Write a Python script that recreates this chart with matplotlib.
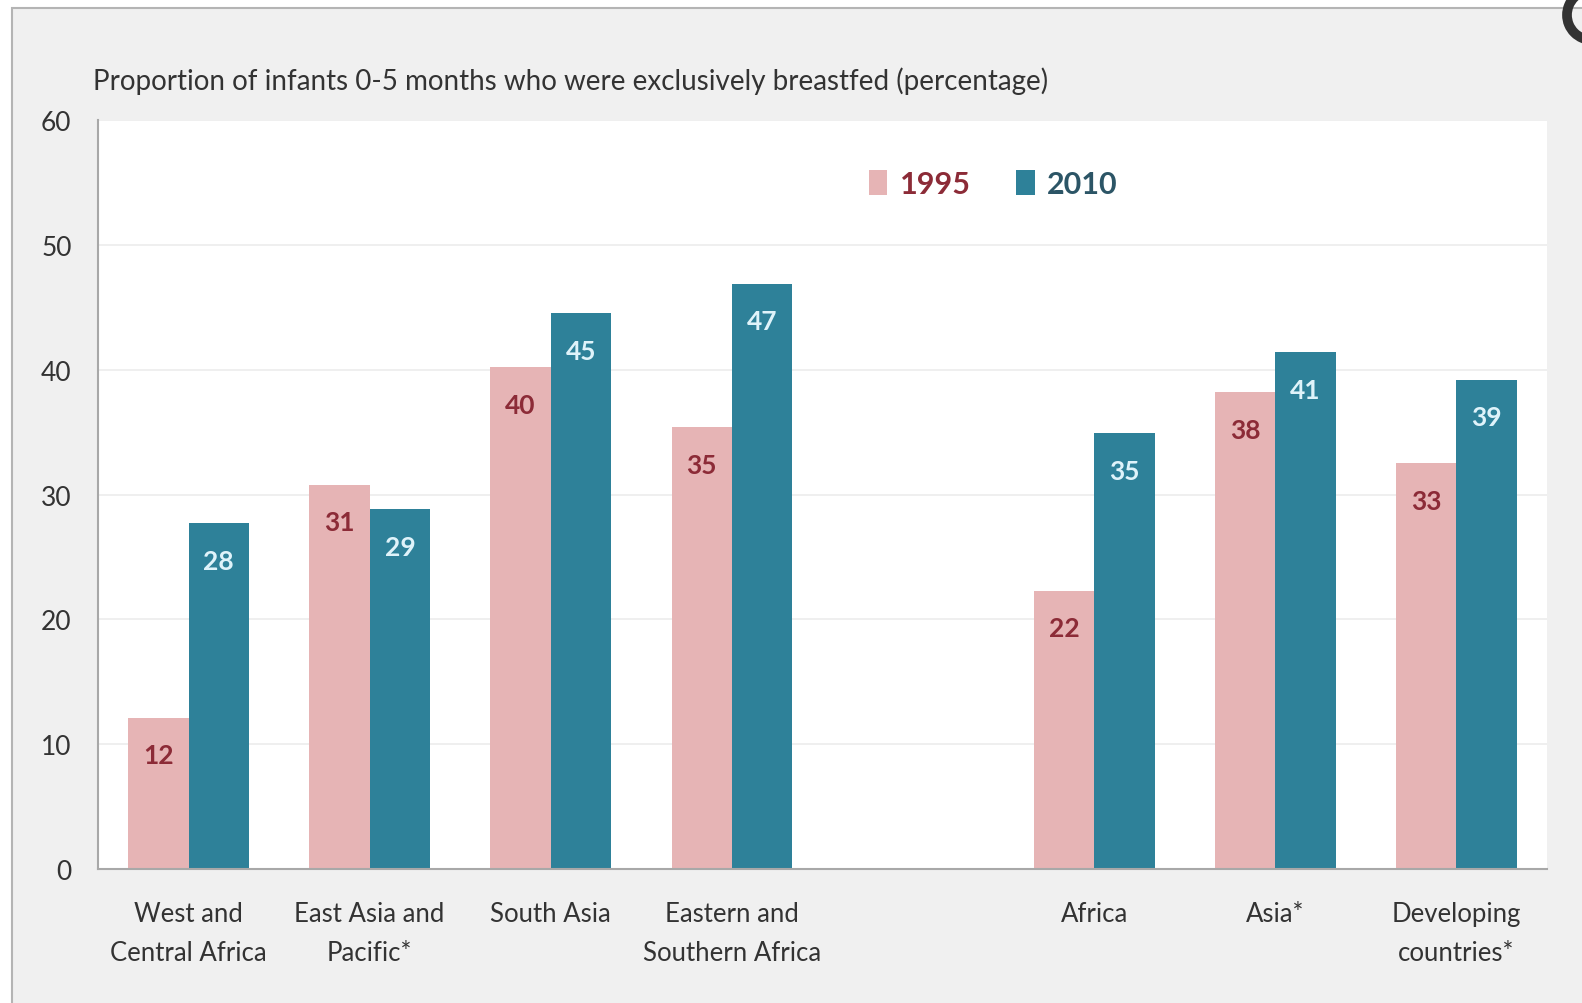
import matplotlib
matplotlib.use("Agg")
import matplotlib.pyplot as plt
from matplotlib.patches import Rectangle, Arc
import numpy as np

categories = ["West and\nCentral Africa", "East Asia and\nPacific*", "South Asia",
              "Eastern and\nSouthern Africa", "Africa", "Asia*", "Developing\ncountries*"]
positions = [0, 1, 2, 3, 5, 6, 7]
values_1995 = [12.1, 30.8, 40.2, 35.4, 22.3, 38.2, 32.5]
values_2010 = [27.7, 28.8, 44.5, 46.9, 34.9, 41.4, 39.2]
labels_1995 = ["12", "31", "40", "35", "22", "38", "33"]
labels_2010 = ["28", "29", "45", "47", "35", "41", "39"]
series_names = ["1995", "2010"]
yticks = [0, 10, 20, 30, 40, 50, 60]
title = "Proportion of infants 0-5 months who were exclusively breastfed (percentage)"

PINK = "#e6b4b5"
TEAL = "#2e8199"
PINK_TXT = "#8c2b37"
TEAL_TXT = "#dff3fa"
FONT = "Lato"

W, H = 1582, 1004
fig = plt.figure(figsize=(W / 100, H / 100), dpi=100)
fig.patch.set_facecolor("white")
fig.patches.append(Rectangle((12 / W, -0.1), 1.2, 1.1 - 9 / H, transform=fig.transFigure,
                             facecolor="#f0f0f0", edgecolor="#b4b4b4", linewidth=1.5, zorder=-10))
fig.patches.append(Arc((1592 / W, 1 - 16 / H), 50 / W, 50 / H, transform=fig.transFigure,
                       color="#333333", linewidth=7, zorder=-5))

ax = fig.add_axes([98 / W, 1 - 870 / H, (1547 - 98) / W, (870 - 121) / H])
ax.set_facecolor("white")
bw = 1 / 3
x = np.array(positions, dtype=float)
ax.bar(x - bw / 2, values_1995, width=bw, color=PINK, zorder=2, label=series_names[0])
ax.bar(x + bw / 2, values_2010, width=bw, color=TEAL, zorder=2, label=series_names[1])
for xi, v, t in zip(x, values_1995, labels_1995):
    ax.text(xi - bw / 2, v - 3.0, t, ha="center", va="center", color=PINK_TXT,
            fontsize=19, family=FONT, fontweight="bold", zorder=3)
for xi, v, t in zip(x, values_2010, labels_2010):
    ax.text(xi + bw / 2, v - 3.0, t, ha="center", va="center", color=TEAL_TXT,
            fontsize=19, family=FONT, fontweight="bold", zorder=3)

ax.set_xlim(-0.5, 7.5)
ax.set_ylim(0, 60)
ax.set_yticks(yticks)
ax.set_yticklabels([str(t) for t in yticks], family=FONT, fontsize=19, color="#333333")
ax.set_xticks(positions)
ax.set_xticklabels(categories, family=FONT, fontsize=18.5, color="#333333", linespacing=1.72)
ax.tick_params(axis="both", length=0)
ax.tick_params(axis="y", pad=19)
ax.tick_params(axis="x", pad=23)
ax.yaxis.grid(True, color="#ececec", linewidth=1.2, zorder=0)
ax.set_axisbelow(True)
for s in ["top", "right"]:
    ax.spines[s].set_visible(False)
ax.spines["left"].set_color("#a8a8a8")
ax.spines["bottom"].set_color("#a8a8a8")
ax.spines["left"].set_linewidth(1.5)
ax.spines["bottom"].set_linewidth(1.5)

fig.text(93 / W, 1 - 81 / H, title, ha="left", va="center", family=FONT, fontsize=20,
         color="#333333")

leg = ax.legend(loc="upper left", bbox_to_anchor=((869 - 98) / (1547 - 98), 1 - (171 - 121) / (870 - 121)),
                ncol=2, frameon=False, handlelength=0.6, handleheight=0.9, handletextpad=0.4,
                columnspacing=1.5, borderaxespad=0, borderpad=0,
                prop={"family": FONT, "size": 22, "weight": "bold"})
for txt, c in zip(leg.get_texts(), [PINK_TXT, "#2c5566"]):
    txt.set_color(c)

fig.savefig("out.png", dpi=100)
